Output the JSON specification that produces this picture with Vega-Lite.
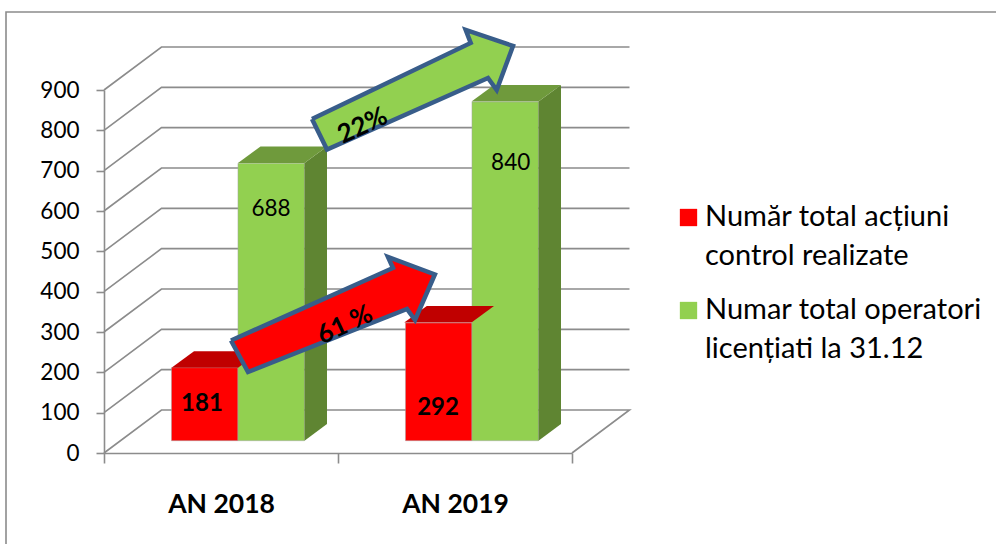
{
"$schema":"https://vega.github.io/schema/vega-lite/v6.json",
"width":468,"height":363,
"autosize":{"type":"none"},
"padding":{"left":104,"top":90,"right":424,"bottom":91},
"background":"white",
"config":{"view":{"stroke":null},"font":"Lato"},
"datasets":{
"bars":[
{"year":"AN 2018","series":"Număr total acțiuni control realizate","value":181,"labelU":0.4188,"labelV":121.5},
{"year":"AN 2018","series":"Numar total operatori licențiati la 31.12","value":688,"labelU":0.7137,"labelV":603.8},
{"year":"AN 2019","series":"Număr total acțiuni control realizate","value":292,"labelU":1.4274,"labelV":111.6},
{"year":"AN 2019","series":"Numar total operatori licențiati la 31.12","value":840,"labelU":1.738,"labelV":719}
],
"grid":[
{"line":"0","u":0,"v":0},{"line":"0","u":0.2457,"v":106.6},{"line":"0","u":2.2457,"v":106.6},{"line":"0","u":2,"v":0},
{"line":"100","u":0,"v":100},{"line":"100","u":0.2457,"v":206.6},{"line":"100","u":2.2457,"v":206.6},
{"line":"200","u":0,"v":200},{"line":"200","u":0.2457,"v":306.6},{"line":"200","u":2.2457,"v":306.6},
{"line":"300","u":0,"v":300},{"line":"300","u":0.2457,"v":406.6},{"line":"300","u":2.2457,"v":406.6},
{"line":"400","u":0,"v":400},{"line":"400","u":0.2457,"v":506.6},{"line":"400","u":2.2457,"v":506.6},
{"line":"500","u":0,"v":500},{"line":"500","u":0.2457,"v":606.6},{"line":"500","u":2.2457,"v":606.6},
{"line":"600","u":0,"v":600},{"line":"600","u":0.2457,"v":706.6},{"line":"600","u":2.2457,"v":706.6},
{"line":"700","u":0,"v":700},{"line":"700","u":0.2457,"v":806.6},{"line":"700","u":2.2457,"v":806.6},
{"line":"800","u":0,"v":800},{"line":"800","u":0.2457,"v":906.6},{"line":"800","u":2.2457,"v":906.6},
{"line":"900","u":0,"v":900},{"line":"900","u":0.2457,"v":1006.6},{"line":"900","u":2.2457,"v":1006.6},
{"line":"frame","u":-0.4188,"v":-225.6},{"line":"frame","u":-0.4188,"v":1093.5},{"line":"frame","u":3.812,"v":1093.5}
],
"solid":[
{"part":"g18side","kind":"side","i":0,"u":0.8568,"v":719.1},{"part":"g18side","kind":"side","i":1,"u":0.953,"v":760},{"part":"g18side","kind":"side","i":2,"u":0.953,"v":71.9},{"part":"g18side","kind":"side","i":3,"u":0.8568,"v":30.5},
{"part":"g18top","kind":"top","i":0,"u":0.5726,"v":719.1},{"part":"g18top","kind":"top","i":1,"u":0.8568,"v":719.1},{"part":"g18top","kind":"top","i":2,"u":0.953,"v":760},{"part":"g18top","kind":"top","i":3,"u":0.6688,"v":760},
{"part":"r18top","kind":"redtop","i":0,"u":0.2885,"v":211.5},{"part":"r18top","kind":"redtop","i":1,"u":0.5726,"v":211.5},{"part":"r18top","kind":"redtop","i":2,"u":0.6688,"v":252.4},{"part":"r18top","kind":"redtop","i":3,"u":0.3846,"v":252.4},
{"part":"g19side","kind":"side","i":0,"u":1.8568,"v":871.5},{"part":"g19side","kind":"side","i":1,"u":1.953,"v":912.5},{"part":"g19side","kind":"side","i":2,"u":1.953,"v":71.9},{"part":"g19side","kind":"side","i":3,"u":1.8568,"v":30.5},
{"part":"g19top","kind":"top","i":0,"u":1.5705,"v":871.5},{"part":"g19top","kind":"top","i":1,"u":1.8568,"v":871.5},{"part":"g19top","kind":"top","i":2,"u":1.953,"v":912.5},{"part":"g19top","kind":"top","i":3,"u":1.6667,"v":912.5},
{"part":"r19top","kind":"redtop","i":0,"u":1.2833,"v":323.6},{"part":"r19top","kind":"redtop","i":1,"u":1.5705,"v":323.6},{"part":"r19top","kind":"redtop","i":2,"u":1.6667,"v":364.5},{"part":"r19top","kind":"redtop","i":3,"u":1.3795,"v":364.5}
],
"arrows":[
{"part":"green","kind":"green","i":0,"u":0.8889,"v":828},{"part":"green","kind":"green","i":1,"u":1.5671,"v":1016.6},{"part":"green","kind":"green","i":2,"u":1.5457,"v":1048.8},{"part":"green","kind":"green","i":3,"u":1.748,"v":1009.2},{"part":"green","kind":"green","i":4,"u":1.6782,"v":900.1},{"part":"green","kind":"green","i":5,"u":1.641,"v":929.8},{"part":"green","kind":"green","i":6,"u":0.953,"v":752.5},{"part":"green","kind":"green","i":7,"u":0.8889,"v":828},
{"part":"red","kind":"red","i":0,"u":0.5427,"v":279},{"part":"red","kind":"red","i":1,"u":1.235,"v":458.7},{"part":"red","kind":"red","i":2,"u":1.2137,"v":486},{"part":"red","kind":"red","i":3,"u":1.414,"v":442.6},{"part":"red","kind":"red","i":4,"u":1.3291,"v":329.8},{"part":"red","kind":"red","i":5,"u":1.2949,"v":357},{"part":"red","kind":"red","i":6,"u":0.6154,"v":200.8},{"part":"red","kind":"red","i":7,"u":0.5427,"v":279}
],
"notes":[{"text":"22%","u":1.1056,"v":810.8},{"text":"61 %","u":1.03,"v":317.4}]
},
"resolve":{"scale":{"x":"independent"}},
"layer":[
{"data":{"name":"grid"},
 "mark":{"type":"line","stroke":"#8c8c8c","strokeWidth":1.6,"strokeJoin":"miter"},
 "encoding":{"x":{"field":"u","type":"quantitative","scale":{"domain":[0,2],"nice":false,"zero":false},"axis":null},
  "y":{"field":"v","type":"quantitative","scale":{"domain":[0,900],"nice":false},
   "axis":{"title":null,"values":[0,100,200,300,400,500,600,700,800,900],"domainColor":"#8c8c8c","domainWidth":1.6,"tickColor":"#8c8c8c","tickWidth":1.6,"tickSize":8,"grid":false,"labelFontSize":22.5,"labelColor":"#000000","labelPadding":17,"labelFont":"Lato"}},
  "detail":{"field":"line"},"order":{"field":"index"}}},
{"data":{"name":"bars"},
 "mark":{"type":"bar","yOffset":-12.3,"stroke":"#a6a6a6","strokeWidth":0.5},
 "encoding":{
  "x":{"field":"year","type":"nominal","scale":{"domain":["AN 2018","AN 2019"],"padding":0},
   "axis":{"title":null,"labelAngle":0,"domainColor":"#8c8c8c","domainWidth":1.6,"tickColor":"#8c8c8c","tickWidth":1.6,"tickSize":10,"tickBand":"extent","labelFontSize":26.5,"labelFontWeight":"bold","labelColor":"#000000","labelPadding":28,"labelFont":"Lato"}},
  "xOffset":{"field":"series","type":"nominal","scale":{"domain":["Număr total acțiuni control realizate","Numar total operatori licențiati la 31.12"],"paddingInner":0,"paddingOuter":0.7594,"align":0.668}},
  "y":{"field":"value","type":"quantitative","scale":{"domain":[0,900],"nice":false}},
  "color":{"field":"series","type":"nominal","scale":{"domain":["Număr total acțiuni control realizate","Numar total operatori licențiati la 31.12"],"range":["#ff0000","#92d050"]},
   "legend":{"title":null,"orient":"none","legendX":570,"legendY":113,"symbolType":"square","symbolSize":300,"symbolOpacity":1,"symbolStrokeWidth":0,"labelFontSize":29,"labelColor":"#000000","labelFont":"Lato","labelLimit":400,"rowPadding":24,"labelOffset":2,"labelBaseline":"top",
    "encoding":{"labels":{"lineHeight":{"value":39},"dy":{"value":-15}}},
    "labelExpr":"datum.label=='Număr total acțiuni control realizate'?['Număr total acțiuni','control realizate']:['Numar total operatori','licențiati la 31.12']"}}}},
{"data":{"name":"solid"},
 "mark":{"type":"line","strokeWidth":0},
 "encoding":{"x":{"field":"u","type":"quantitative","scale":{"domain":[0,2],"nice":false,"zero":false},"axis":null},
  "y":{"field":"v","type":"quantitative"},
  "detail":{"field":"part"},"order":{"field":"i"},
  "fill":{"field":"kind","type":"nominal","legend":null,"scale":{"domain":["side","top","redtop","green","red"],"range":["#5f8532","#6f9a3c","#c00000","#92d050","#ff0000"]}}}},
{"data":{"name":"arrows"},
 "mark":{"type":"line","stroke":"#385d8a","strokeWidth":4.5,"strokeJoin":"miter","strokeMiterLimit":10},
 "encoding":{"x":{"field":"u","type":"quantitative","scale":{"domain":[0,2],"nice":false,"zero":false},"axis":null},
  "y":{"field":"v","type":"quantitative"},
  "detail":{"field":"part"},"order":{"field":"i"},
  "fill":{"field":"kind","type":"nominal","legend":null,"scale":{"domain":["side","top","redtop","green","red"],"range":["#5f8532","#6f9a3c","#c00000","#92d050","#ff0000"]}}}},
{"data":{"name":"bars"},
 "transform":[{"filter":"datum.value<500"}],
 "mark":{"type":"text","fontSize":24,"fontWeight":"bold","font":"Lato","color":"#000000"},
 "encoding":{"x":{"field":"labelU","type":"quantitative","scale":{"domain":[0,2],"nice":false,"zero":false},"axis":null},
  "y":{"field":"labelV","type":"quantitative"},"text":{"field":"value","type":"quantitative"}}},
{"data":{"name":"bars"},
 "transform":[{"filter":"datum.value>=500"}],
 "mark":{"type":"text","fontSize":22.5,"font":"Lato","color":"#000000"},
 "encoding":{"x":{"field":"labelU","type":"quantitative","scale":{"domain":[0,2],"nice":false,"zero":false},"axis":null},
  "y":{"field":"labelV","type":"quantitative"},"text":{"field":"value","type":"quantitative"}}},
{"data":{"name":"notes"},
 "mark":{"type":"text","fontSize":26,"fontWeight":"bold","font":"Lato","color":"#000000","angle":335},
 "encoding":{"x":{"field":"u","type":"quantitative","scale":{"domain":[0,2],"nice":false,"zero":false},"axis":null},
  "y":{"field":"v","type":"quantitative"},"text":{"field":"text"}}}
]
}
